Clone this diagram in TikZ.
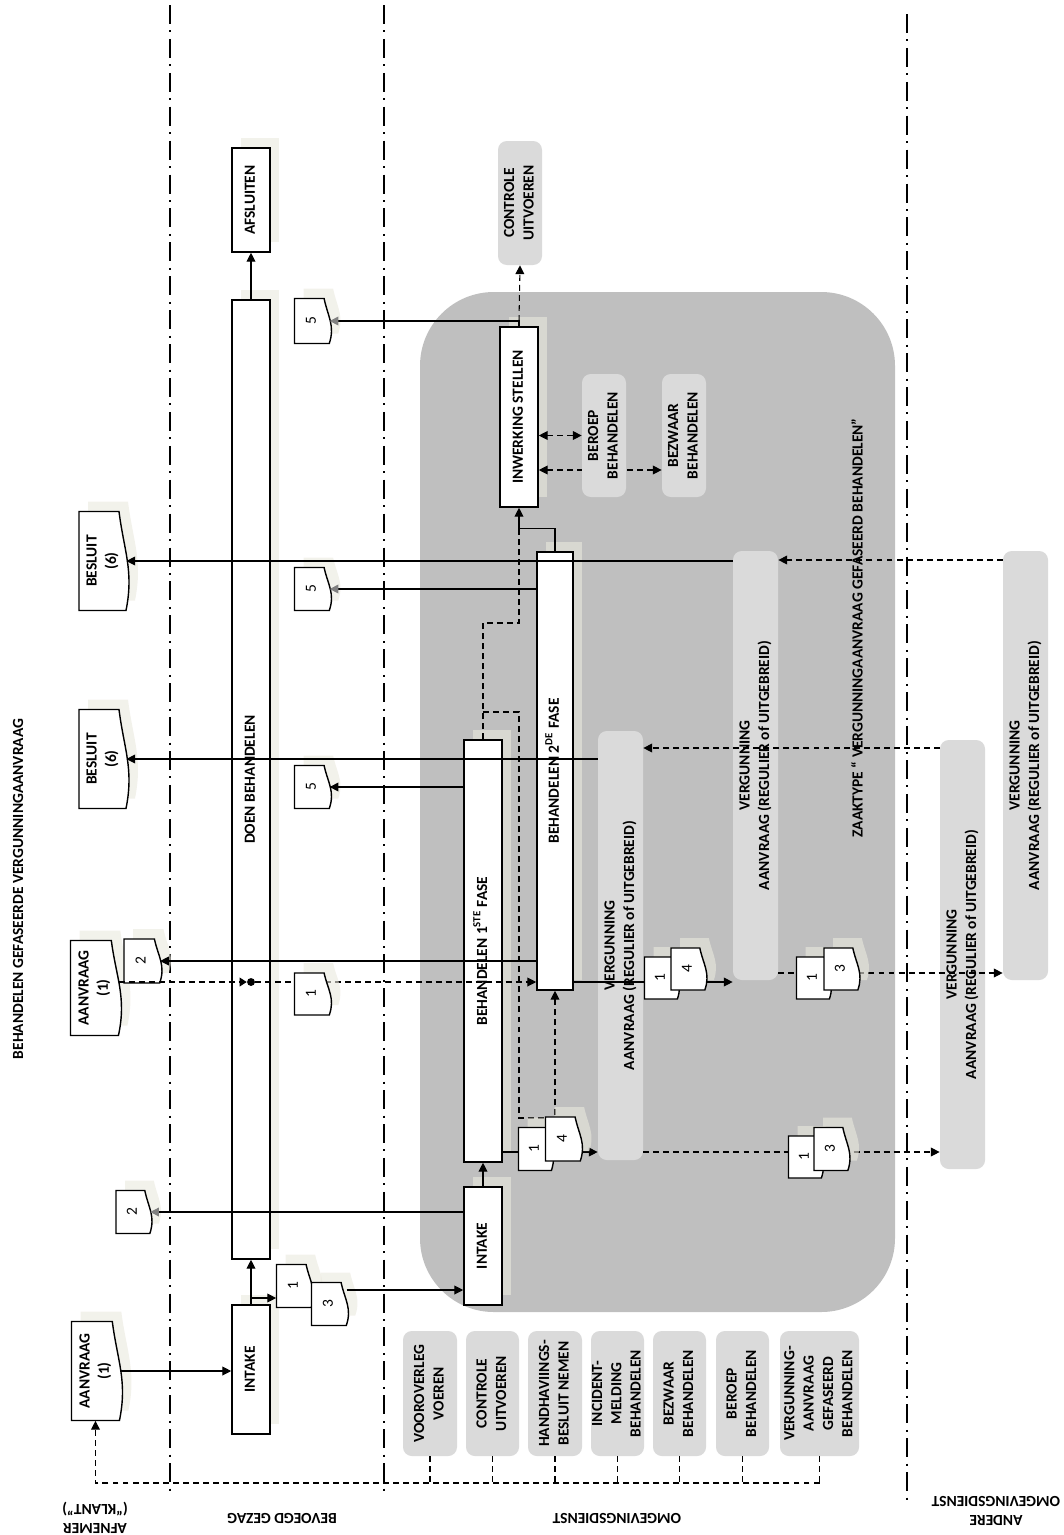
\documentclass[tikz,border=0pt]{standalone}
\usepackage{fontspec}
\setmainfont{Carlito}
\usepackage{tikz}
\usetikzlibrary{positioning, arrows.meta, fit, shadows, calc}

\definecolor{biggray}{HTML}{BFBFBF}
\definecolor{taskgray}{HTML}{DADADA}
\definecolor{shadowc}{RGB}{234,233,222}

% text turned a quarter, several lines
\newcommand{\vtxt}[1]{\rotatebox{90}{\begin{tabular}{@{}c@{}}#1\end{tabular}}}
% document shape: name, cx, cy, width, height, text
\newcommand{\docnode}[6]{%
  \pgfmathsetmacro{\dxa}{#2-0.5*#4}\pgfmathsetmacro{\dxb}{#2+0.3*#4}%
  \pgfmathsetmacro{\dxc}{#2+0.4*#4}\pgfmathsetmacro{\dxd}{#2+0.6*#4}%
  \pgfmathsetmacro{\dxe}{#2+0.44*#4}%
  \pgfmathsetmacro{\dya}{#3-0.5*#5}\pgfmathsetmacro{\dyb}{#3-0.1*#5}%
  \pgfmathsetmacro{\dyc}{#3+0.1*#5}\pgfmathsetmacro{\dyd}{#3+0.5*#5}%
  \fill[shadowfill, shift={(9,-10)}] (\dxa,\dya) -- (\dxb,\dya) .. controls (\dxc,\dyb) and (\dxd,\dyc) .. (\dxe,\dyd) -- (\dxa,\dyd) -- cycle;
  \draw[docline] (\dxa,\dya) -- (\dxb,\dya) .. controls (\dxc,\dyb) and (\dxd,\dyc) .. (\dxe,\dyd) -- (\dxa,\dyd) -- cycle;
  \node[inner sep=0pt, fit={(\dxa,\dya) (\dxe,\dyd)}, label={[lbl]center:\vtxt{#6}}] (#1) {};}

\begin{document}
\begin{tikzpicture}[x=0.02cm, y=-0.02cm,
    lbl/.style={font=\bfseries\fontsize{8.8}{11}\selectfont, inner sep=0pt},
    box/.style={draw, fill=white, line width=0.9pt, inner sep=0pt,
      drop shadow={shadow xshift=0.18cm, shadow yshift=0.2cm, fill=shadowc, opacity=0.6}},
    task/.style={fill=taskgray, rounded corners=5pt, inner sep=0pt},
    docline/.style={draw, fill=white, line width=0.8pt},
    shadowfill/.style={fill=shadowc, fill opacity=0.6},
    conn/.style={line width=0.6pt},
    arr/.style={conn, -{Triangle[length=5pt, width=5pt]}},
    garr/.style={conn, -{Triangle[length=5pt, width=5pt, color=gray]}},
    dbl/.style={conn, {Triangle[length=5pt, width=5pt]}-{Triangle[length=5pt, width=5pt]}},
    dsh/.style={dash pattern=on 3.4pt off 2.3pt},
    lane/.style={line width=1.1pt, dash pattern=on 10.8pt off 3.7pt on 1.1pt off 3.7pt}]
  \useasboundingbox (0,0) rectangle (1064,1535);

  % zaaktype area
  \fill[biggray, rounded corners=42pt] (420,292) rectangle (895,1312);

  % lanes
  \foreach \lx/\ya/\yb in {170/5/1495, 384/5/1495, 907/14/1500}
    \draw[lane] (\lx,\ya) -- (\lx,\yb);
  \node[lbl, rotate=90] (title) at (18,889) {BEHANDELEN GEFASEERDE VERGUNNINGAANVRAAG};
  \node[lbl, rotate=180, align=center] (laneA) at (95,1518) {AFNEMER\\(“KLANT”)};
  \node[lbl, rotate=180] (laneB) at (282,1518) {BEVOEGD GEZAG};
  \node[lbl, rotate=180] (laneC) at (617,1518) {OMGEVINGSDIENST};
  \node[lbl, rotate=180, align=center] (laneD) at (996,1511) {ANDERE\\OMGEVINGSDIENST};
  \node[lbl, rotate=90] (zaaktype) at (857,628) {ZAAKTYPE “ VERGUNNINGAANVRAAG GEFASEERD BEHANDELEN”};

  % bevoegd gezag
  \node[box, fit={(232,1305) (270,1434)}, label={[lbl]center:\vtxt{INTAKE}}] (intakeB) {};
  \node[box, fit={(232,300) (270,1259)}, label={[lbl]center:\vtxt{DOEN BEHANDELEN}}] (doen) {};
  \node[box, fit={(232,148) (270,252)}, label={[lbl]center:\vtxt{AFSLUITEN}}] (afsluiten) {};

  % omgevingsdienst
  \node[box, fit={(464,1187) (502,1305)}, label={[lbl]center:\vtxt{INTAKE}}] (intakeO) {};
  \node[box, fit={(464,740) (502,1162)}, label={[lbl]center:\vtxt{BEHANDELEN 1\textsuperscript{STE} FASE}}] (b1) {};
  \node[box, fit={(537,552) (573,990)}, label={[lbl]center:\vtxt{BEHANDELEN 2\textsuperscript{DE} FASE}}] (b2) {};
  \node[box, fit={(500,327) (538,507)}, label={[lbl]center:\vtxt{INWERKING STELLEN}}] (inwerking) {};
  \node[task, fit={(498,141) (542,265)}, label={[lbl]center:\vtxt{CONTROLE\\UITVOEREN}}] (controleT) {};
  \node[task, fit={(662,374) (706,497)}, label={[lbl]center:\vtxt{BEZWAAR\\BEHANDELEN}}] (bezwaarT) {};
  \draw[dsh, dbl] (inwerking.east |- 0,470) -- (bezwaarT.west |- 0,470);
  \node[task, fit={(582,374) (626,497)}, label={[lbl]center:\vtxt{BEROEP\\BEHANDELEN}}] (beroepT) {};
  \draw[dsh, dbl] (inwerking.east |- beroepT.west) -- (beroepT.west);

  \foreach \n/\xa/\ya in {v1/598/731, v2/733/551, v3/940/740, v4/1003/551}
    \node[task, fit={(\xa,\ya) (\xa+45,\ya+429)},
      label={[lbl]center:\vtxt{VERGUNNING\\AANVRAAG (REGULIER of UITGEBREID)}}] (\n) {};

  % zaaktypen onderaan
  \foreach \n/\xa/\xb/\txt in {t1/403/457/{VOOROVERLEG\\VOEREN}, t2/466/519/{CONTROLE\\UITVOEREN},
      t3/528/582/{HANDHAVIINGS-\\BESLUIT NEMEN}, t4/591/644/{INCIDENT-\\MELDING\\BEHANDELEN},
      t5/653/706/{BEZWAAR\\BEHANDELEN}, t6/716/769/{BEROEP\\BEHANDELEN},
      t7/780/859/{VERGUNNING-\\AANVRAAG\\GEFASEERD\\BEHANDELEN}}
    \node[task, fit={(\xa,1331) (\xb,1456)}, label={[lbl]center:\vtxt{\txt}}] (\n) {};

  % documents
  \docnode{aanvraagA}{97}{1371}{51}{99}{AANVRAAG\\(1)}
  \docnode{aanvraagB}{96}{988}{51}{95}{AANVRAAG\\(1)}
  \docnode{doc2B}{143}{961}{38}{44}{\mdseries 2}
  \docnode{doc2A}{134}{1212}{36}{43}{\mdseries 2}
  \docnode{besluitA}{104}{561}{50}{99}{BESLUIT\\(6)}
  \docnode{besluitB}{104}{759}{50}{99}{BESLUIT\\(6)}
  \docnode{vijfA}{313}{321}{37}{45}{\mdseries 5}
  \docnode{vijfB}{313}{589}{37}{43}{\mdseries 5}
  \docnode{vijfC}{313}{787}{37}{43}{\mdseries 5}
  \docnode{een1}{295}{1286}{37}{43}{\mdseries 1}
  \docnode{drie1}{330}{1304}{37}{43}{\mdseries 3}

  % flow
  \draw[arr] (aanvraagA.east) -- (intakeB.west |- aanvraagA.east);
  \draw[arr] (intakeB.north) -- (doen.south);
  \draw[arr] (intakeB.north |- 0,1298) -- (een1.west |- 0,1298);
  \draw[arr] (drie1.east |- 0,1290) -- (intakeO.west |- 0,1290);
  \draw[garr] (intakeO.west |- doc2A.east) -- (doc2A.east);
  \draw[arr] (intakeO.north) -- (b1.south);
  \draw[arr] (doen.north) -- (afsluiten.south);

  \draw[arr] (b1.east |- 0,1152) -- (v1.west |- 0,1152);
  \draw[dsh, arr] (v1.east |- 0,1152) -- (v3.west |- 0,1152);
  \draw[arr] (b2.east |- 0,982) -- (v2.west |- 0,982);
  \draw[dsh, arr] (v2.east |- 0,973) -- (v4.west |- 0,973);
  \draw[dsh, arr] (v4.west |- 0,560) -- (v2.east |- 0,560);
  \draw[dsh, arr] (v3.west |- 0,748) -- (v1.east |- 0,748);

  \draw[arr] (v2.west |- besluitA.east) -- (besluitA.east);
  \draw[garr] (b2.west |- vijfB.east) -- (vijfB.east);
  \draw[arr] (v1.west |- besluitB.east) -- (besluitB.east);
  \draw[arr] (b1.west |- vijfC.east) -- (vijfC.east);
  \draw[arr] (b2.west |- doc2B.east) -- (doc2B.east);

  \node[circle, fill, inner sep=0pt, minimum size=4.5pt] (evt) at (251,982) {};
  \draw[dsh, conn, -{Triangle[length=4pt, width=5pt]}] (aanvraagB.east |- evt) -- (evt.west);
  \draw[dsh, arr] (evt.east) -- (b2.west |- evt);

  \draw[garr] (inwerking.north) |- (vijfA.east);
  \draw[dsh, arr] (inwerking.north |- vijfA.east) -- (controleT.south);
  \draw[arr] (b2.north) -- ++(0,-23) -| (inwerking.south);
  \draw[dsh, conn] (b1.north) |- (inwerking.south |- 0,623) -- (inwerking.south |- 0,529);
  \draw[dsh, arr] (b1.north |- 0,712) -- (inwerking.south |- 0,712) -- (inwerking.south |- 0,1118) -| (b2.south);

  \foreach \n in {t1,t2,t3,t4,t5,t6,t7}
    \draw[dsh, conn] (\n.south) -- (\n.south |- 0,1483);
  \draw[dsh, arr] (t7.south |- 0,1483) -- (aanvraagA.south |- 0,1483) -- (aanvraagA.south);

  % documents on the flows
  \docnode{eenA}{313}{994}{37}{42}{\mdseries 1}
  \docnode{eenP}{536}{1149}{35}{43}{\mdseries 1}
  \docnode{vierP}{564}{1139}{37}{44}{\mdseries 4}
  \docnode{eenQ}{806}{1157}{35}{42}{\mdseries 1}
  \docnode{drieQ}{832}{1149}{36}{43}{\mdseries 3}
  \docnode{eenR}{662}{978}{35}{42}{\mdseries 1}
  \docnode{vierR}{689}{969}{36}{42}{\mdseries 4}
  \docnode{eenS}{814}{978}{35}{42}{\mdseries 1}
  \docnode{drieS}{842}{969}{36}{42}{\mdseries 3}
\end{tikzpicture}
\end{document}
